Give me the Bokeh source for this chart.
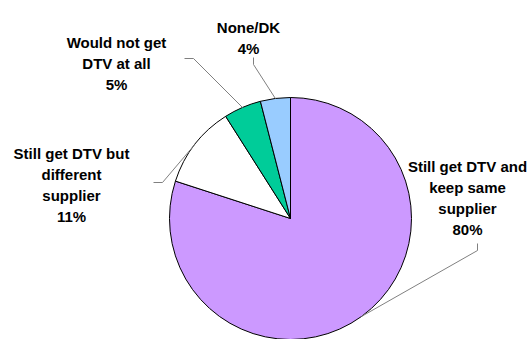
import math
from bokeh.plotting import figure
from bokeh.models import Range1d, ColumnDataSource
from bokeh.embed import file_html
from bokeh.resources import INLINE
from bokeh.core.properties import value

# ---- data ----
categories = [
    "Still get DTV and\nkeep same\nsupplier",
    "Still get DTV but\ndifferent\nsupplier",
    "Would not get\nDTV at all",
    "None/DK",
]
shares = [80, 11, 5, 4]
colors = ["#CC99FF", "#FFFFFF", "#00CC99", "#99CCFF"]

# ---- layout (page pixel coords, converted below) ----
W, H = 528, 339
OFF = 0
def dx(px):
    return px - OFF
def dy(py):
    return (H + OFF) - py

CX, CY, R = dx(290), dy(218), 121
label_anchor = [(467, 166), (71, 153), (116, 42), (248, 27)]  # centre x, first baseline
line_step = 21
leader_start = [[(477, 243), (477, 250)], [(153, 182), (162, 182)],
                [(184, 58), (193, 58)], [(253, 57), (253, 64)]]

p = figure(width=W, height=H, x_range=Range1d(0, W), y_range=Range1d(0, H),
           output_backend="svg", toolbar_location=None, min_border=0,
           x_axis_location=None, y_axis_location=None)
p.grid.visible = False
p.outline_line_color = None
p.background_fill_color = "white"
p.border_fill_color = "white"

total = float(sum(shares))
starts, ends, mids = [], [], []
a = 90.0
for s in shares:
    e = a - s / total * 360.0
    starts.append(math.radians(a))
    ends.append(math.radians(e))
    mids.append((a + e) / 2.0)
    a = e

src = ColumnDataSource(dict(start=starts, end=ends, color=colors))
p.wedge(x=CX, y=CY, radius=R, start_angle="start", end_angle="end",
        direction="clock", fill_color="color",
        line_color="black", line_width=1, source=src)

# leader lines
for pts, m in zip(leader_start, mids):
    xs = [dx(x) for x, _ in pts]
    ys = [dy(y) for _, y in pts]
    rad = math.radians(m)
    xs.append(CX + R * math.cos(rad))
    ys.append(CY + R * math.sin(rad))
    p.line(xs, ys, line_color="#808080", line_width=1)

# labels
tx, ty, tt = [], [], []
for cat, s, (ax, ay) in zip(categories, shares, label_anchor):
    lines = cat.split("\n") + [f"{s}%"]
    for i, ln in enumerate(lines):
        tx.append(dx(ax))
        ty.append(dy(ay + i * line_step))
        tt.append(ln)
p.text(x=tx, y=ty, text=tt, text_align="center", text_baseline="alphabetic",
       text_font=value("Liberation Sans"), text_font_style="bold",
       text_font_size="15px", text_color="black")

open("out.html", "w").write(file_html(p, INLINE))
